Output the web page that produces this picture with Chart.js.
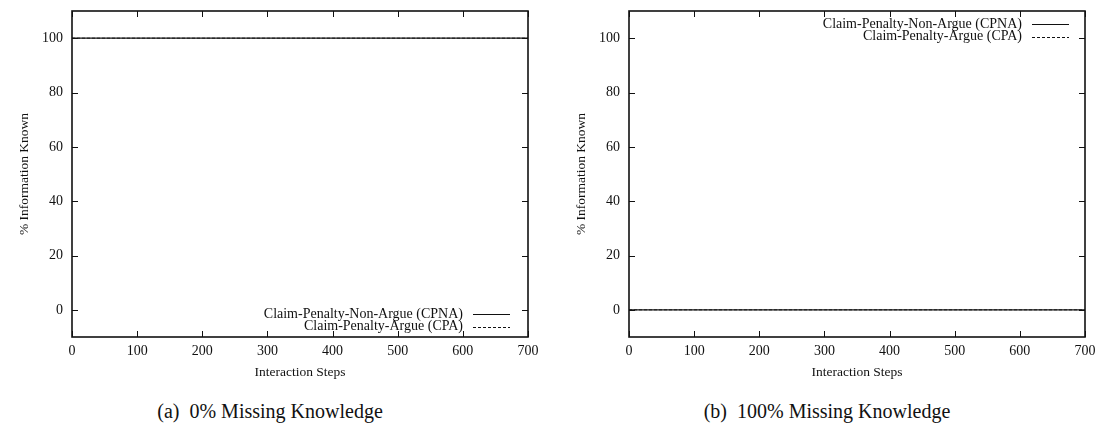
<!DOCTYPE html>
<html>
<head>
<meta charset="utf-8">
<script src="https://cdn.jsdelivr.net/npm/chart.js@4.4.1/dist/chart.umd.min.js"></script>
<style>
  body { margin: 0; background: #fff; }
  #wrap { position: relative; width: 1103px; height: 426px; overflow: hidden; }
  .panel { position: absolute; top: 0; height: 390px; }
  .caption { position: absolute; top: 401px; line-height: 20px; font-family: "Liberation Serif", serif; font-size: 20px; color: #111; white-space: pre; transform: translateX(-50%); }
</style>
</head>
<body>
<div id="wrap">
  <div class="panel" style="left:0;width:557px"><canvas id="chartA"></canvas></div>
  <div class="panel" style="left:557px;width:546px"><canvas id="chartB"></canvas></div>
  <div class="caption" style="left:270px">(a)  0% Missing Knowledge</div>
  <div class="caption" style="left:827px">(b)  100% Missing Knowledge</div>
</div>
<script>
// interaction steps sampled along the run
const steps = [0, 100, 200, 300, 400, 500, 600, 700];
// % information known, 0% missing knowledge
const cpnaA = [100, 100, 100, 100, 100, 100, 100, 100];
const cpaA  = [100, 100, 100, 100, 100, 100, 100, 100];
// % information known, 100% missing knowledge
const cpnaB = [0, 0, 0, 0, 0, 0, 0, 0];
const cpaB  = [0, 0, 0, 0, 0, 0, 0, 0];
const yTicks = [0, 20, 40, 60, 80, 100];
const seriesNames = ['Claim-Penalty-Non-Argue (CPNA)', 'Claim-Penalty-Argue (CPA)'];

const serif = '"Liberation Serif", "Times New Roman", serif';

// gnuplot-like frame: box, inward ticks on all sides, key with line samples
const framePlugin = {
  id: 'frame',
  afterDraw(chart, args, opts) {
    const ctx = chart.ctx;
    const a = chart.chartArea;
    const xs = chart.scales.x, ys = chart.scales.y;
    ctx.save();
    ctx.strokeStyle = '#111';
    ctx.lineWidth = 1;
    ctx.setLineDash([]);
    ctx.beginPath();
    xs.ticks.forEach(t => {
      const px = Math.round(xs.getPixelForValue(t.value)) + 0.5;
      ctx.moveTo(px, a.bottom); ctx.lineTo(px, a.bottom - 6);
      ctx.moveTo(px, a.top); ctx.lineTo(px, a.top + 6);
    });
    ys.ticks.forEach(t => {
      const py = Math.round(ys.getPixelForValue(t.value)) + 0.5;
      ctx.moveTo(a.left, py); ctx.lineTo(a.left + 6, py);
      ctx.moveTo(a.right, py); ctx.lineTo(a.right - 6, py);
    });
    ctx.stroke();
    ctx.lineWidth = 1.6;
    ctx.strokeRect(a.left, a.top, a.right - a.left, a.bottom - a.top);

    // key
    ctx.font = '14px ' + serif;
    ctx.fillStyle = '#111';
    ctx.textAlign = 'right';
    ctx.textBaseline = 'middle';
    chart.data.datasets.forEach((ds, i) => {
      const y = opts.keyY + i * 12.5;
      ctx.fillText(ds.label, opts.keyX, y);
      ctx.lineWidth = 1;
      ctx.setLineDash(ds.borderDash || []);
      ctx.beginPath();
      ctx.moveTo(opts.keyX + 10, Math.round(y) + 0.5);
      ctx.lineTo(opts.keyX + 47, Math.round(y) + 0.5);
      ctx.stroke();
    });
    ctx.restore();
  }
};

function makeChart(id, solid, dashed, padRight, keyX, keyY) {
  return new Chart(document.getElementById(id), {
    type: 'line',
    data: {
      labels: steps,
      datasets: [
        { label: seriesNames[0], data: solid, borderColor: '#111', borderWidth: 1.2, pointRadius: 0, tension: 0 },
        { label: seriesNames[1], data: dashed, borderColor: '#333', borderWidth: 1, borderDash: [3, 2], pointRadius: 0, tension: 0 }
      ]
    },
    options: {
      responsive: false,
      animation: false,
      layout: { padding: { left: 0, right: padRight, top: 11, bottom: 0 } },
      plugins: {
        legend: { display: false },
        tooltip: { enabled: false },
        frame: { keyX: keyX, keyY: keyY }
      },
      scales: {
        x: {
          type: 'linear', min: 0, max: 700,
          grid: { display: false, drawTicks: false, tickLength: 0 },
          border: { display: false },
          ticks: { stepSize: 100, color: '#111', font: { family: serif, size: 14 }, padding: 6 },
          title: { display: true, text: 'Interaction Steps', color: '#111', font: { family: serif, size: 13.5 }, padding: { top: 0, bottom: 9 } },
          afterFit: s => { s.height = 53; s.paddingLeft = 0; s.paddingRight = 0; }
        },
        y: {
          min: -10, max: 110,
          grid: { display: false, drawTicks: false, tickLength: 0 },
          border: { display: false },
          afterBuildTicks: s => { s.ticks = yTicks.map(v => ({ value: v })); },
          ticks: { color: '#111', font: { family: serif, size: 14 }, padding: 9 },
          title: { display: true, text: '% Information Known', color: '#111', font: { family: serif, size: 13.5 }, padding: { top: 16.4, bottom: 0 } },
          afterFit: s => { s.width = 72; s.paddingTop = 0; s.paddingBottom = 0; }
        }
      }
    },
    plugins: [framePlugin]
  });
}

const cA = document.getElementById('chartA'); cA.width = 557; cA.height = 390;
const cB = document.getElementById('chartB'); cB.width = 546; cB.height = 390;

makeChart('chartA', cpnaA, cpaA, 29, 463, 314);
makeChart('chartB', cpnaB, cpaB, 18, 465, 24);
</script>
</body>
</html>
